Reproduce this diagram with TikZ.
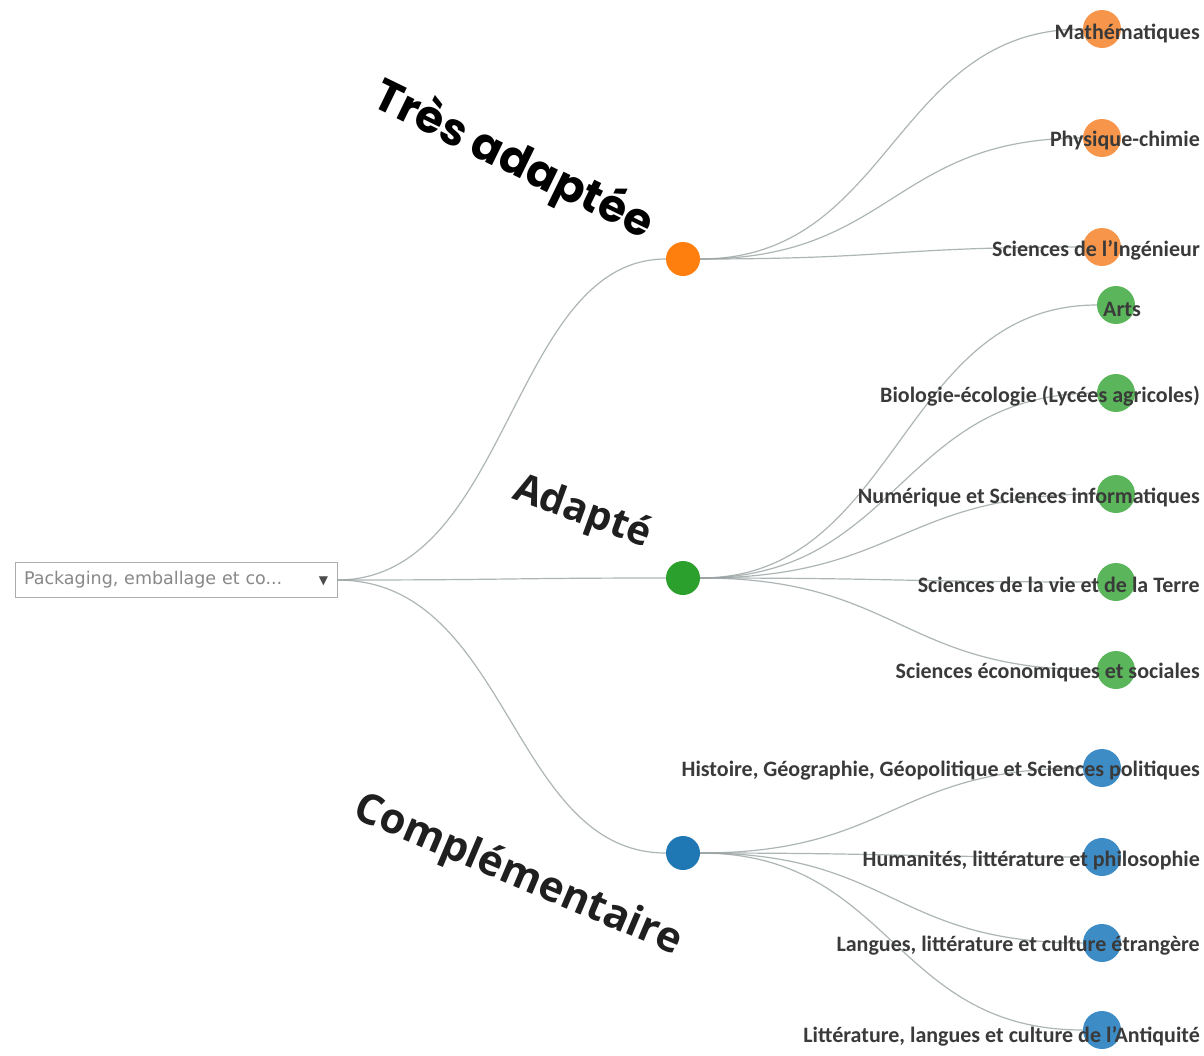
\documentclass[tikz,border=0pt]{standalone}
\usepackage{fontspec}
\setmainfont{Carlito}
\newfontfamily\boxfont{DejaVu Sans}
\newfontfamily\catfont{Open Sans}
\newfontfamily\topfont{Poppins}
\usetikzlibrary{calc}
\definecolor{orangeM}{HTML}{FF7F0E}
\definecolor{greenM}{HTML}{2CA02C}
\definecolor{blueM}{HTML}{1F77B4}
\definecolor{orangeL}{HTML}{F7964A}
\definecolor{greenL}{HTML}{5BB55B}
\definecolor{blueL}{HTML}{3D8CC6}
\definecolor{linkgray}{HTML}{9AA3A3}
\definecolor{labelgray}{HTML}{3A3A3A}
\definecolor{boxgray}{HTML}{888888}
\tikzset{
  linkline/.style={draw=linkgray, line width=1.2pt, opacity=.8},
  midnode/.style={circle, minimum size=34pt, inner sep=0pt},
  leafnode/.style={circle, minimum size=38pt, inner sep=0pt},
  leaflabel/.style={anchor=east, inner sep=0pt, text=labelgray, font=\bfseries\fontsize{22}{22}\selectfont},
  catlabel/.style={text=black!88, font=\catfont\bfseries\fontsize{42}{42}\selectfont},
}
\newcommand\treelink[2]{\draw[linkline] let \p1=(#1), \p2=(#2) in
  (#1) .. controls ({(\x1+\x2)/2},\y1) and ({(\x1+\x2)/2},\y2) .. (#2);}
\begin{document}
\begin{tikzpicture}[x=1pt, y=-1pt]
\useasboundingbox[fill=white] (0,0) rectangle (1204,1055);
% root selector
\node[draw=boxgray!70, minimum width=322pt, minimum height=35pt, text width=304pt,
  align=left, text=boxgray, font=\boxfont\fontsize{17.5}{17.5}\selectfont] (root) at (176,580)
  {Packaging, emballage et co...\hfill{\color{black!70}\fontsize{12}{12}\selectfont ▼}};
% categories
\node[midnode, fill=orangeM] (tres) at (683,259) {};
\node[midnode, fill=greenM] (adapte) at (683,578) {};
\node[midnode, fill=blueM] (compl) at (683,853) {};
% subjects
\node[leafnode, fill=orangeL] (maths) at (1102,29) {};
\node[leafnode, fill=orangeL] (pc) at (1102,138) {};
\node[leafnode, fill=orangeL] (si) at (1102,247) {};
\node[leafnode, fill=greenL] (arts) at (1116,305) {};
\node[leafnode, fill=greenL] (bio) at (1116,393) {};
\node[leafnode, fill=greenL] (nsi) at (1116,494) {};
\node[leafnode, fill=greenL] (svt) at (1116,582) {};
\node[leafnode, fill=greenL] (ses) at (1116,670) {};
\node[leafnode, fill=blueL] (hggsp) at (1102,768) {};
\node[leafnode, fill=blueL] (hlp) at (1102,857) {};
\node[leafnode, fill=blueL] (llce) at (1102,943) {};
\node[leafnode, fill=blueL] (lca) at (1102,1030) {};
% links
\treelink{root.east}{tres}
\treelink{root.east}{adapte}
\treelink{root.east}{compl}
\treelink{tres}{maths}
\treelink{tres}{pc}
\treelink{tres}{si}
\treelink{adapte}{arts}
\treelink{adapte}{bio}
\treelink{adapte}{nsi}
\treelink{adapte}{svt}
\treelink{adapte}{ses}
\treelink{compl}{hggsp}
\treelink{compl}{hlp}
\treelink{compl}{llce}
\treelink{compl}{lca}
% subject labels
\node[leaflabel] (mathsT) at (1200,33) {Mathématiques};
\node[leaflabel] (pcT) at (1200,141) {Physique-chimie};
\node[leaflabel] (siT) at (1200,250) {Sciences de l'Ingénieur};
\node[leaflabel, anchor=center] (artsT) at (1122,309) {Arts};
\node[leaflabel] (bioT) at (1200,396) {Biologie-écologie (Lycées agricoles)};
\node[leaflabel] (nsiT) at (1200,497) {Numérique et Sciences informatiques};
\node[leaflabel] (svtT) at (1200,585) {Sciences de la vie et de la Terre};
\node[leaflabel] (sesT) at (1200,673) {Sciences économiques et sociales};
\node[leaflabel] (hggspT) at (1200,771) {Histoire, Géographie, Géopolitique et Sciences politiques};
\node[leaflabel] (hlpT) at (1200,860) {Humanités, littérature et philosophie};
\node[leaflabel] (llceT) at (1200,946) {Langues, littérature et culture étrangère};
\node[leaflabel] (lcaT) at (1200,1036) {Littérature, langues et culture de l'Antiquité};
% category titles
\node[catlabel, text=black, font=\topfont\bfseries\fontsize{45}{45}\selectfont, rotate=-26] (tresT) at (513,161) {Très adaptée};
\node[catlabel, font=\catfont\bfseries\fontsize{40}{40}\selectfont, rotate=-20] (adapteT) at (582,513) {Adapté};
\node[catlabel, rotate=-23] (complT) at (518,876) {Complémentaire};
\end{tikzpicture}
\end{document}
